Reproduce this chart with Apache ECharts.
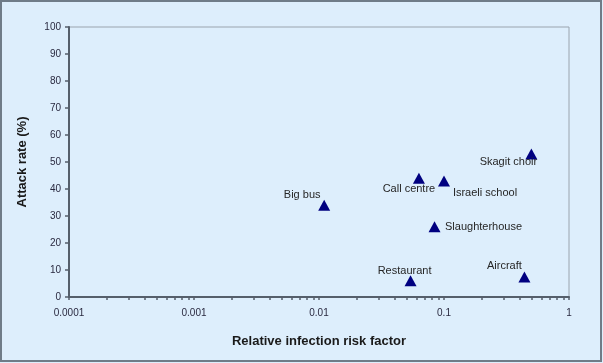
<!DOCTYPE html>
<html>
<head>
<meta charset="utf-8">
<script src="https://cdn.jsdelivr.net/npm/echarts@6/dist/echarts.min.js"></script>
<style>
html,body{margin:0;padding:0;background:#ddeefc;}
#chart{width:603px;height:363px;}
</style>
</head>
<body>
<div id="chart"></div>
<script>
const names = ['Big bus', 'Call centre', 'Israeli school', 'Skagit choir', 'Slaughterhouse', 'Restaurant', 'Aircraft'];
const riskFactors = [0.011, 0.063, 0.1, 0.5, 0.084, 0.054, 0.44];
const attackRates = [34, 44, 43, 53, 26, 6, 7.4];
const xTickValues = [0.0001, 0.001, 0.01, 0.1, 1];
const xTickLabels = ['0.0001', '0.001', '0.01', '0.1', '1'];
const xMinorMultipliers = [1, 2, 3, 4, 5, 6, 7, 8, 9];
const yTicks = [0, 10, 20, 30, 40, 50, 60, 70, 80, 90, 100];

const labelOffsets = [[-22, -10], [-10, 11], [41, 12], [-23, 8], [49, 0], [-6, -10], [-20, -11]];

const xTickAll = [];
xTickValues.forEach(function (d, i) {
  if (i === xTickValues.length - 1) { xTickAll.push(d); return; }
  xMinorMultipliers.forEach(function (m) { xTickAll.push(+(d * m).toPrecision(3)); });
});

const data = names.map(function (n, i) {
  return {
    name: n,
    value: [riskFactors[i], attackRates[i]],
    label: { offset: labelOffsets[i] }
  };
});

const chart = echarts.init(document.getElementById('chart'), null, { renderer: 'canvas' });
chart.setOption({
  backgroundColor: '#ddeefc',
  animation: false,
  textStyle: { fontFamily: 'Liberation Sans, Arial, sans-serif' },
  graphic: [{
    type: 'rect', shape: { x: 1, y: 1, width: 600, height: 360 },
    style: { fill: 'none', stroke: '#6f7c88', lineWidth: 2 }, z: 100
  }],
  grid: { left: 69, right: 34, top: 27, bottom: 66, show: true, borderColor: '#9aa4ae', borderWidth: 1, backgroundColor: 'transparent' },
  xAxis: {
    type: 'log', logBase: 10, min: 0.0001, max: 1,
    name: 'Relative infection risk factor', nameLocation: 'middle', nameGap: 38,
    nameTextStyle: { fontWeight: 'bold', fontSize: 13, color: '#1a1a1a', fontFamily: 'Liberation Sans, Arial, sans-serif' },
    axisLine: { lineStyle: { color: '#555f6b', width: 2 } },
    axisTick: { show: true, inside: false, length: 3, lineStyle: { color: '#555f6b', width: 1.5 }, customValues: xTickAll },
    axisLabel: {
      fontSize: 10, color: '#2a2a40', margin: 11, customValues: xTickValues,
      formatter: function (v) {
        for (let i = 0; i < xTickValues.length; i++) {
          if (Math.abs(Math.log10(v) - Math.log10(xTickValues[i])) < 1e-6) return xTickLabels[i];
        }
        return '';
      }
    },
    splitLine: { show: false }
  },
  yAxis: {
    type: 'value', min: 0, max: 100, interval: 10,
    name: 'Attack rate (%)', nameLocation: 'middle', nameGap: 40, nameRotate: 90,
    nameTextStyle: { fontWeight: 'bold', fontSize: 13, color: '#1a1a1a', fontFamily: 'Liberation Sans, Arial, sans-serif' },
    axisLine: { show: true, lineStyle: { color: '#555f6b', width: 2 } },
    axisTick: { show: true, length: 4, lineStyle: { color: '#555f6b', width: 1.5 } },
    axisLabel: { fontSize: 10, color: '#2a2a40', margin: 8, customValues: yTicks },
    splitLine: { show: false }
  },
  series: [{
    type: 'scatter',
    symbol: 'triangle',
    symbolSize: [12, 11],
    itemStyle: { color: '#000080', opacity: 1 },
    label: {
      show: true, position: 'inside', formatter: '{b}',
      fontSize: 11, color: '#262626', fontFamily: 'Liberation Sans, Arial, sans-serif'
    },
    data: data
  }]
});
</script>
</body>
</html>
